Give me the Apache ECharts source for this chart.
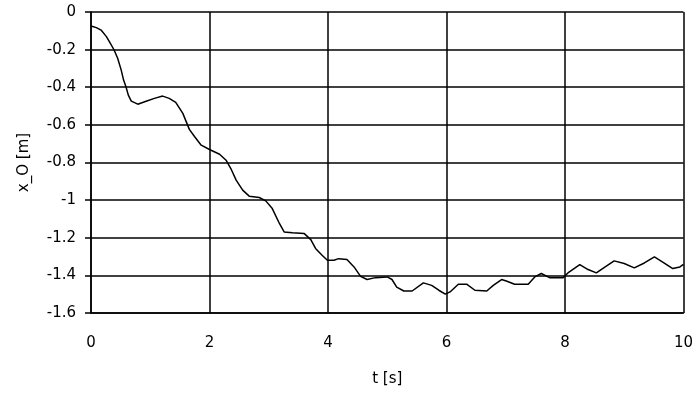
<!DOCTYPE html>
<html>
<head>
<meta charset="utf-8">
<script src="https://cdn.jsdelivr.net/npm/echarts@6/dist/echarts.min.js"></script>
<style>
  html, body { margin: 0; padding: 0; background: #fff; }
  #chart { width: 696px; height: 394px; }
</style>
</head>
<body>
<div id="chart"></div>
<script>
// time [s] and position x_O [m]
const tValues = [0, 0.09, 0.17, 0.26, 0.31, 0.39, 0.45, 0.51, 0.55, 0.59, 0.63, 0.68, 0.79, 0.93,
  1.07, 1.21, 1.32, 1.43, 1.55, 1.66, 1.75, 1.86, 2.0, 2.17, 2.28, 2.36, 2.45, 2.56, 2.67, 2.84, 2.95,
  3.06, 3.18, 3.26, 3.4, 3.6, 3.71, 3.79, 3.9, 3.99, 4.1, 4.18, 4.32, 4.44, 4.55, 4.66, 4.8, 5.0,
  5.08, 5.16, 5.28, 5.42, 5.61, 5.75, 5.87, 5.98, 6.06, 6.2, 6.34, 6.48, 6.68, 6.79, 6.93, 7.01,
  7.15, 7.38, 7.49, 7.6, 7.74, 7.97, 8.05, 8.25, 8.39, 8.53, 8.61, 8.83, 9.0, 9.17, 9.34, 9.51,
  9.65, 9.82, 9.94, 10]
const xValues = [-0.074, -0.083, -0.096, -0.131, -0.158, -0.202, -0.246, -0.309, -0.362, -0.397, -0.442, -0.474, -0.49, -0.474,
  -0.459, -0.447, -0.459, -0.48, -0.539, -0.624, -0.663, -0.708, -0.731, -0.756, -0.788, -0.832, -0.894, -0.947, -0.979, -0.986, -1.004,
  -1.045, -1.124, -1.169, -1.174, -1.178, -1.21, -1.257, -1.293, -1.32, -1.32, -1.311, -1.316, -1.355, -1.405, -1.422, -1.412, -1.408,
  -1.422, -1.462, -1.483, -1.483, -1.44, -1.453, -1.479, -1.5, -1.488, -1.447, -1.447, -1.479, -1.483, -1.453, -1.422, -1.43,
  -1.447, -1.447, -1.408, -1.39, -1.412, -1.412, -1.387, -1.343, -1.369, -1.387, -1.369, -1.323, -1.337, -1.36, -1.334, -1.302,
  -1.329, -1.364, -1.355, -1.341]
const xTicks = [0, 2, 4, 6, 8, 10]
const yTicks = [0, -0.2, -0.4, -0.6, -0.8, -1, -1.2, -1.4, -1.6]

const font = 'DejaVu Sans'
const chart = echarts.init(document.getElementById('chart'))
chart.setOption({
  animation: false,
  grid: { left: 91, right: 10, top: 12, bottom: 81 },
  xAxis: {
    type: 'value',
    min: xTicks[0],
    max: xTicks[xTicks.length - 1],
    interval: 2,
    name: 't [s]',
    nameLocation: 'middle',
    nameGap: 59,
    nameTextStyle: { color: '#000', fontFamily: font, fontSize: 15 },
    axisLine: { show: true, onZero: false, lineStyle: { color: '#000', width: 1.5 } },
    axisTick: { show: false },
    axisLabel: { color: '#000', fontFamily: font, fontSize: 15, margin: 23 },
    splitLine: { show: true, lineStyle: { color: '#000', width: 1.5 } }
  },
  yAxis: {
    type: 'value',
    min: yTicks[yTicks.length - 1],
    max: yTicks[0],
    interval: 0.2,
    name: 'x_O [m]',
    nameLocation: 'middle',
    nameGap: 59,
    nameTextStyle: { color: '#000', fontFamily: font, fontSize: 15 },
    axisLine: { show: true, lineStyle: { color: '#000', width: 1.5 } },
    axisTick: { show: true, length: 6, lineStyle: { color: '#000', width: 1.5 } },
    axisLabel: { color: '#000', fontFamily: font, fontSize: 15, margin: 15 },
    splitLine: { show: true, lineStyle: { color: '#000', width: 1.5 } }
  },
  series: [{
    type: 'line',
    data: tValues.map((t, i) => [t, xValues[i]]),
    showSymbol: false,
    lineStyle: { color: '#000', width: 1.5 }
  }]
})
</script>
</body>
</html>
